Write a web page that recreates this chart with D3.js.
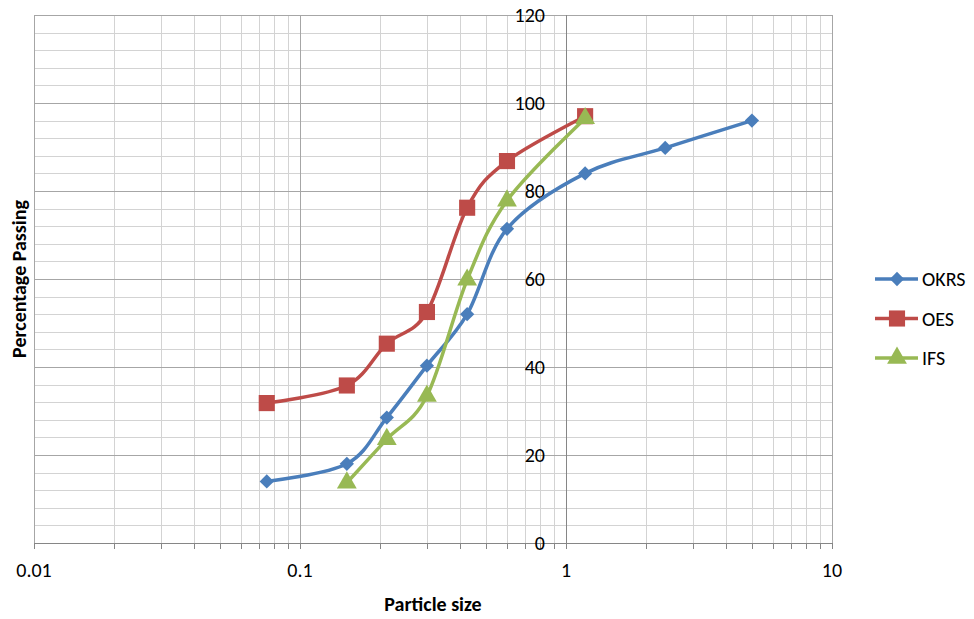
<!DOCTYPE html>
<html>
<head>
<meta charset="utf-8">
<script src="https://cdn.jsdelivr.net/npm/d3@7"></script>
<style>
  body { margin: 0; background: #fff; }
  svg text { font-family: Calibri, Carlito, Lato, sans-serif; fill: #000; }
</style>
</head>
<body>
<div id="chart"></div>
<script>
// sieve sizes (mm) and percentage passing
var okrsSize = [0.075, 0.15, 0.212, 0.3, 0.425, 0.6, 1.18, 2.36, 5];
var okrsPass = [14, 18, 28.5, 40.3, 52, 71.4, 84, 89.8, 96];
var oesSize = [0.075, 0.15, 0.212, 0.3, 0.425, 0.6, 1.18];
var oesPass = [31.8, 35.8, 45.3, 52.5, 76.2, 86.8, 97];
var ifsSize = [0.15, 0.212, 0.3, 0.425, 0.6, 1.18];
var ifsPass = [13.7, 23.6, 33.4, 59.8, 77.8, 96.5];

var xTicks = [0.01, 0.1, 1, 10];
var yTicks = [0, 20, 40, 60, 80, 100, 120];

var series = [
  { name: 'OKRS', size: okrsSize, pass: okrsPass, color: '#4A7EBB', marker: 'diamond' },
  { name: 'OES', size: oesSize, pass: oesPass, color: '#BE4B48', marker: 'square' },
  { name: 'IFS', size: ifsSize, pass: ifsPass, color: '#98B954', marker: 'triangle' }
];

var W = 974, H = 619;
var pLeft = 34, pRight = 832, pTop = 15, pBottom = 543;

var svg = d3.select('#chart').append('svg')
  .attr('width', W)
  .attr('height', H);

var x = d3.scaleLog().domain([0.01, 10]).range([pLeft, pRight]);
var y = d3.scaleLinear().domain([0, 120]).range([pBottom, pTop]);

// minor values
var xMinor = [];
[0.01, 0.1, 1].forEach(function (dec) {
  for (var k = 2; k <= 9; k++) xMinor.push(dec * k);
});
var yMinor = d3.range(0, 121, 4).filter(function (v) { return v % 20 !== 0; });

function px(v) { return Math.round(v) + 0.5; }

// grid: minor
var gm = svg.append('g').attr('stroke', '#d3d3d3').attr('stroke-width', 1);
xMinor.forEach(function (v) {
  gm.append('line').attr('x1', px(x(v))).attr('x2', px(x(v))).attr('y1', pTop).attr('y2', pBottom);
});
yMinor.forEach(function (v) {
  gm.append('line').attr('x1', pLeft).attr('x2', pRight).attr('y1', px(y(v))).attr('y2', px(y(v)));
});

// grid: major
var gM = svg.append('g').attr('stroke', '#a6a6a6').attr('stroke-width', 1);
xTicks.forEach(function (v) {
  gM.append('line').attr('x1', px(x(v))).attr('x2', px(x(v))).attr('y1', pTop).attr('y2', pBottom);
});
yTicks.forEach(function (v) {
  gM.append('line').attr('x1', pLeft).attr('x2', pRight).attr('y1', px(y(v))).attr('y2', px(y(v)));
});

// axes: x at bottom, y crossing at 1
var axisColor = '#868686';
var ga = svg.append('g').attr('stroke', axisColor).attr('stroke-width', 1);
ga.append('line').attr('x1', pLeft).attr('x2', pRight).attr('y1', px(pBottom)).attr('y2', px(pBottom));
xTicks.concat(xMinor).forEach(function (v) {
  ga.append('line').attr('x1', px(x(v))).attr('x2', px(x(v))).attr('y1', pBottom).attr('y2', pBottom + 6);
});
ga.append('line').attr('x1', px(x(1))).attr('x2', px(x(1))).attr('y1', pTop).attr('y2', pBottom + 6);

// tick labels
svg.append('g').selectAll('text').data(xTicks).join('text')
  .attr('x', function (d) { return x(d); })
  .attr('y', pBottom + 34)
  .attr('text-anchor', 'middle')
  .style('font-size', '20px')
  .text(function (d) { return d; });

svg.append('g').selectAll('text').data(yTicks).join('text')
  .attr('x', x(1) - 21)
  .attr('y', function (d) { return y(d); })
  .attr('dy', '0.35em')
  .attr('text-anchor', 'end')
  .style('font-size', '20px')
  .text(function (d) { return d; });

// axis titles
svg.append('text')
  .attr('x', (pLeft + pRight) / 2)
  .attr('y', 611)
  .attr('text-anchor', 'middle')
  .style('font-size', '20px')
  .style('font-weight', 'bold')
  .text('Particle size');

svg.append('text')
  .attr('transform', 'translate(26,' + ((pTop + pBottom) / 2) + ') rotate(-90)')
  .attr('text-anchor', 'middle')
  .style('font-size', '20px')
  .style('font-weight', 'bold')
  .text('Percentage Passing');

// markers
var symbols = {
  diamond: d3.symbol().type(d3.symbolDiamond2).size(130),
  square: d3.symbol().type(d3.symbolSquare).size(260),
  triangle: d3.symbol().type(d3.symbolTriangle).size(170)
};

var line = d3.line()
  .x(function (d) { return x(d[0]); })
  .y(function (d) { return y(d[1]); })
  .curve(d3.curveCatmullRom.alpha(0));

series.forEach(function (s) {
  var pts = s.size.map(function (v, i) { return [v, s.pass[i]]; });
  var g = svg.append('g');
  g.append('path')
    .attr('d', line(pts))
    .attr('fill', 'none')
    .attr('stroke', s.color)
    .attr('stroke-width', 3.5)
    .attr('stroke-linejoin', 'round');
  g.selectAll('path.m').data(pts).join('path')
    .attr('class', 'm')
    .attr('transform', function (d) { return 'translate(' + x(d[0]) + ',' + y(d[1]) + ')'; })
    .attr('d', symbols[s.marker]())
    .attr('fill', s.color);
});

// legend
var lg = svg.append('g');
series.forEach(function (s, i) {
  var ly = 279 + i * 39.5;
  lg.append('line')
    .attr('x1', 875).attr('x2', 918)
    .attr('y1', ly).attr('y2', ly)
    .attr('stroke', s.color)
    .attr('stroke-width', 3.5);
  lg.append('path')
    .attr('transform', 'translate(897,' + ly + ')')
    .attr('d', symbols[s.marker]())
    .attr('fill', s.color);
  lg.append('text')
    .attr('x', 922)
    .attr('y', ly)
    .attr('dy', '0.35em')
    .style('font-size', '20px')
    .text(s.name);
});
</script>
</body>
</html>
